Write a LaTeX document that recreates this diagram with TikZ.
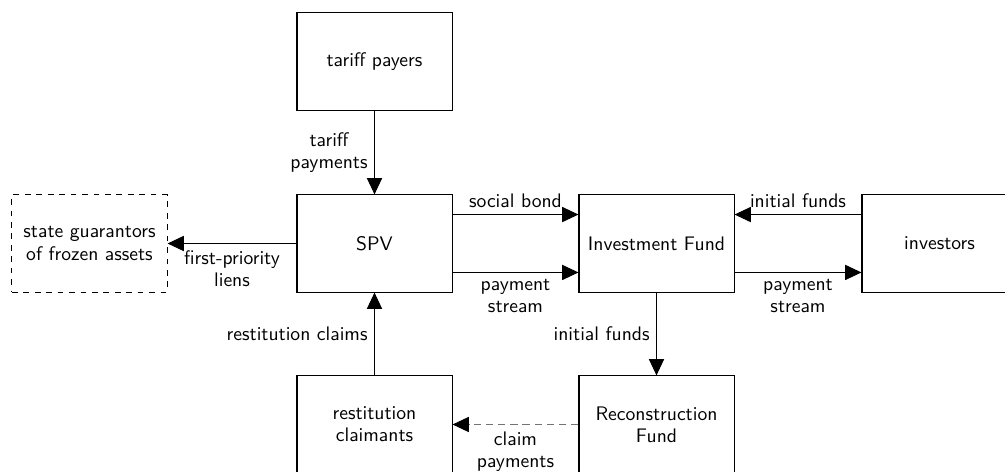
\documentclass[tikz,border=0pt]{standalone}
\usetikzlibrary{arrows.meta}
\begin{document}
\begin{tikzpicture}[x=0.525pt,y=-0.525pt,
  font=\sffamily\fontsize{10.3}{11.6}\selectfont,
  box/.style={draw,line width=0.55pt,minimum width=81.4pt,minimum height=51pt,align=center,inner sep=2pt},
  dbox/.style={box,dashed},
  flow/.style={line width=0.5pt,-{Triangle[length=8.6pt,width=8pt,color=black]}},
  lbl/.style={align=center,inner sep=3.4pt}]
\useasboundingbox (0,0) rectangle (1005,472);
\begin{scope}
\clip (0,0) rectangle (1005,472);
\node[box] (tp) at (374.5,61.5) {tariff payers};
\node[box] (spv) at (374.5,243.5) {SPV};
\node[box] (if) at (656.5,243.5) {Investment Fund};
\node[box] (inv) at (939.5,243.5) {investors};
\node[dbox] (sg) at (89.5,243.5) {state guarantors\\of frozen assets};
\node[box] (rc) at (374.5,424.5) {restitution\\claimants};
\node[box] (rf) at (656.5,424.5) {Reconstruction\\Fund};

\draw[flow] (tp) -- node[lbl,left] {tariff\\payments} (spv);
\coordinate (s1) at ([yshift=15.2pt]spv.east);
\coordinate (s2) at ([yshift=-15.2pt]spv.east);
\coordinate (f1) at ([yshift=15.2pt]if.west);
\coordinate (f2) at ([yshift=-15.2pt]if.west);
\coordinate (f3) at ([yshift=15.2pt]if.east);
\coordinate (f4) at ([yshift=-15.2pt]if.east);
\coordinate (i1) at ([yshift=15.2pt]inv.west);
\coordinate (i2) at ([yshift=-15.2pt]inv.west);
\draw[flow] (s1) -- node[lbl,above] {social bond} (f1);
\draw[flow] (s2) -- node[lbl,below] {payment\\stream} (f2);
\draw[flow] (i1) -- node[lbl,above] {initial funds} (f3);
\draw[flow] (f4) -- node[lbl,below] {payment\\stream} (i2);
\draw[flow] (spv) -- node[lbl,below] {first-priority\\liens} (sg);
\draw[flow] (rc) -- node[lbl,left] {restitution claims} (spv);
\draw[flow] (if) -- node[lbl,left] {initial funds} (rf);
\draw[flow,dash pattern=on 3.8pt off 2.6pt,draw=black!55] (rf) -- node[lbl,below,text=black] {claim\\payments} (rc);
\end{scope}
\end{tikzpicture}
\end{document}
